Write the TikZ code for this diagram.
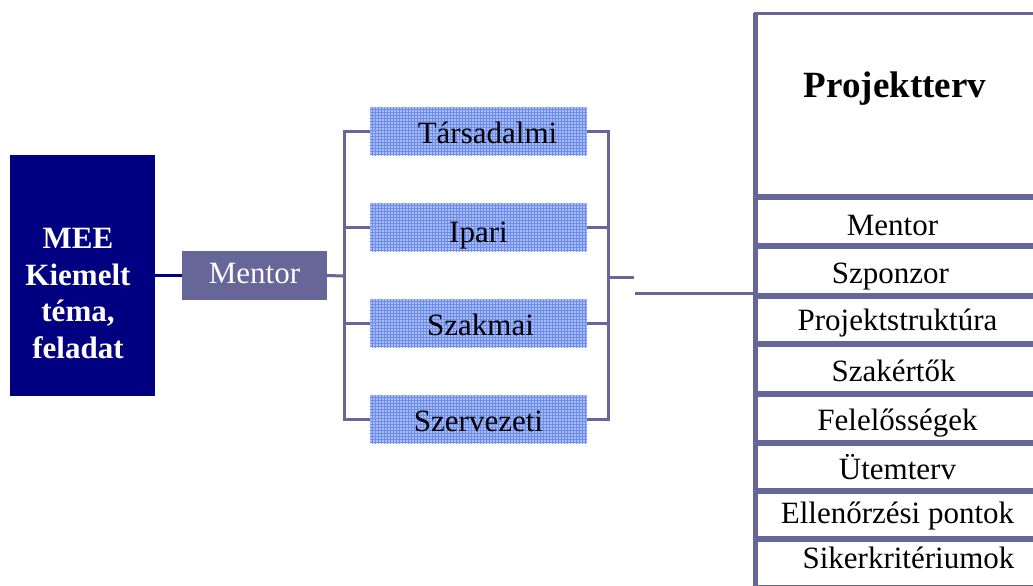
\documentclass[tikz,border=0pt]{standalone}
\usepackage{fontspec}
\setmainfont{Liberation Serif}
\usetikzlibrary{patterns}
\definecolor{navybox}{RGB}{0,0,128}
\definecolor{slate}{RGB}{102,102,153}
\definecolor{hatchbg}{RGB}{168,188,245}
\definecolor{hatchln}{RGB}{110,140,235}
\begin{document}
\begin{tikzpicture}[x=1pt,y=-1pt,
  conn/.style={draw=slate,line width=3pt},
  catbox/.style={preaction={fill=hatchbg},pattern=grid,pattern color=hatchln,
    minimum width=217pt,minimum height=48pt,inner sep=0pt,outer sep=0pt,
    text height=24pt,text depth=0pt,
    font=\fontsize{31}{36}\selectfont},
  rowbox/.style={draw=slate,line width=3pt,minimum width=285pt,inner sep=0pt,outer sep=0pt,
    text height=24pt,text depth=0pt,
    font=\fontsize{31}{36}\selectfont},
  ]
\useasboundingbox (0,0) rectangle (1033,586);
\clip (0,0) rectangle (1033,586);

% left main box
\node[fill=navybox,minimum width=145pt,minimum height=241pt,inner sep=0pt,outer sep=0pt] (L) at (82.5,275.5) {};
\node[text=white,align=center,font=\fontsize{31}{36.5}\selectfont\bfseries,inner sep=0pt] (Ltxt) at (78,293.5) {MEE\\Kiemelt\\téma,\\feladat};

% mentor box
\node[fill=slate,text=white,minimum width=145pt,minimum height=49pt,inner sep=0pt,outer sep=0pt,
      text height=15pt,text depth=0pt,
      font=\fontsize{31}{36}\selectfont] (M) at (254.5,275.5) {Mentor};

% category boxes
\node[catbox] (t1) at (478.5,131) {\hspace*{18pt}Társadalmi};
\node[catbox] (t2) at (478.5,227) {\raisebox{-3pt}{Ipari}};
\node[catbox] (t3) at (478.5,323) {\hspace*{4pt}Szakmai};
\node[catbox] (t4) at (478.5,419) {Szervezeti};

% junction coordinates
\coordinate (jl) at (344,276);
\coordinate (jr) at (608,277);
\coordinate (jre) at (634,277);
\coordinate (jrb) at (635,293);
\coordinate (pin) at (755,293);

% connectors
\draw[draw=navybox,line width=3pt] (L.east) -- (M.west);
\draw[conn] (M.east) -- (jl);
\draw[conn] (jl) |- (t1.west);
\draw[conn] (jl) |- (t2.west);
\draw[conn] (jl) |- (t3.west);
\draw[conn] (jl) |- (t4.west);
\draw[conn] (t1.east) -| (jr);
\draw[conn] (t2.east) -| (jr);
\draw[conn] (t3.east) -| (jr);
\draw[conn] (t4.east) -| (jr);
\draw[conn] (jr) -- (jre);
\draw[conn] (jrb) -- (pin);

% right column
\node[rowbox,minimum height=182pt] (r0) at (897.5,104.5) {};
\node[font=\fontsize{37}{40}\selectfont\bfseries,inner sep=0pt,anchor=base] (r0t) at (895,97) {Projektterv};
\node[rowbox,minimum height=46pt] (r1) at (897.5,221.5) {\hspace*{-10pt}\raisebox{-2pt}{Mentor}};
\node[rowbox,minimum height=47pt] (r2) at (897.5,271) {\hspace*{-14pt}Szponzor};
\node[rowbox,minimum height=45pt] (r3) at (897.5,320) {\raisebox{2pt}{Projektstruktúra}};
\node[rowbox,minimum height=47pt] (r4) at (897.5,369) {\hspace*{-8pt}Szakértők};
\node[rowbox,minimum height=46pt] (r5) at (897.5,418.5) {Felelősségek};
\node[rowbox,minimum height=45pt] (r6) at (897.5,467) {Ütemterv};
\node[rowbox,minimum height=45pt] (r7) at (897.5,515) {\raisebox{4pt}{Ellenőrzési pontok}};
\node[rowbox,minimum height=46pt] (r8) at (897.5,563.5) {\hspace*{22pt}\raisebox{7pt}{Sikerkritériumok}};
\draw[slate,line width=5pt] (r0.north west) -- (r8.south west);
\end{tikzpicture}
\end{document}
